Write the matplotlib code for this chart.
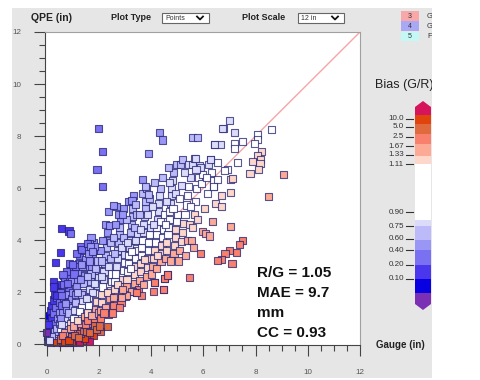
import numpy as np
import matplotlib
matplotlib.use("Agg")
import matplotlib.pyplot as plt
from matplotlib.colors import ListedColormap, BoundaryNorm
from matplotlib.patches import Rectangle, Polygon

plt.rcParams['font.family'] = ['Liberation Sans', 'DejaVu Sans']

# gauge (x) and QPE (y) amounts, inches
gauge = [
    0.05, 0.05, 0.08, 0.10, 0.12, 0.06, 0.15, 0.10, 0.20, 0.18,
    0.25, 0.30, 0.22, 0.28, 0.35, 0.40, 0.38, 0.45, 0.32, 0.42,
    0.48, 0.15, 0.25, 0.35, 0.45, 0.30, 0.40, 0.50, 0.20, 0.12,
    0.50, 0.45, 0.28, 0.08, 0.01, 0.30, 0.66, 0.78, 0.40, 0.55,
    0.60, 0.70, 0.65, 0.80, 0.90, 0.75, 1.00, 1.10, 0.95, 1.20,
    1.30, 1.15, 1.40, 1.50, 1.35, 1.60, 1.70, 1.55, 1.80, 1.90,
    1.75, 2.05, 0.55, 0.85, 1.25, 1.65, 2.33, 0.95, 1.45, 0.70,
    0.55, 0.60, 0.62, 0.58, 0.65, 0.70, 0.68, 0.72, 0.75, 0.78,
    0.80, 0.82, 0.85, 0.88, 0.90, 0.92, 0.95, 0.98, 0.96, 1.00,
    0.85, 0.70, 0.60, 0.90, 0.78, 0.65, 0.55, 0.52, 0.88, 0.97,
    0.74, 0.83, 0.58, 0.94, 0.86,
    1.02, 1.05, 1.08, 1.10, 1.12, 1.15, 1.18, 1.20, 1.22, 1.25,
    1.28, 1.30, 1.32, 1.35, 1.38, 1.40, 1.42, 1.45, 1.48, 1.50,
    1.05, 1.10, 1.18, 1.26, 1.34, 1.44, 1.40, 1.16, 1.46, 1.20,
    1.30, 1.36, 1.06, 1.22, 1.48,
    1.52, 1.55, 1.58, 1.60, 1.62, 1.65, 1.68, 1.70, 1.72, 1.75,
    1.78, 1.80, 1.82, 1.85, 1.88, 1.90, 1.92, 1.95, 1.98, 2.00,
    1.56, 1.64, 1.74, 1.86, 1.94, 1.66, 1.90, 1.76, 1.84, 1.60,
    1.96, 1.70, 1.98, 1.54,
    2.02, 2.05, 2.08, 2.10, 2.12, 2.15, 2.18, 2.20, 2.22, 2.25,
    2.28, 2.30, 2.32, 2.38, 2.40, 2.42, 2.45, 2.48, 2.50, 2.06,
    2.14, 2.24, 2.36, 2.44, 2.46, 2.12, 2.26, 2.40, 2.20, 2.34,
    2.10,
    2.52, 2.55, 2.58, 2.60, 2.62, 2.65, 2.68, 2.70, 2.72, 2.75,
    2.78, 2.80, 2.82, 2.85, 2.88, 2.90, 2.92, 2.95, 2.98, 3.00,
    2.56, 2.64, 2.74, 2.86, 2.94, 2.60, 2.70, 2.80, 2.96, 2.66,
    3.02, 3.05, 3.08, 3.10, 3.12, 3.15, 3.18, 3.20, 3.22, 3.25,
    3.28, 3.30, 3.32, 3.35, 3.38, 3.40, 3.42, 3.45, 3.48, 3.50,
    3.06, 3.14, 3.24, 3.36, 3.44, 3.20, 3.46, 3.34, 3.10, 3.40,
    3.52, 3.55, 3.58, 3.60, 3.62, 3.64, 3.65, 3.68, 3.70, 3.72,
    3.75, 3.78, 3.80, 3.82, 3.85, 3.88, 3.90, 3.92, 3.95, 3.98,
    3.56, 3.66, 3.76, 3.86, 3.94, 3.60, 3.72, 3.84,
    4.02, 4.05, 4.08, 4.10, 4.12, 4.15, 4.18, 4.20, 4.22, 4.25,
    4.28, 4.30, 4.32, 4.35, 4.38, 4.40, 4.42, 4.45, 4.48, 4.49,
    4.06, 4.14, 4.24, 4.36, 4.44, 4.20, 4.50, 4.10,
    4.52, 4.55, 4.58, 4.60, 4.62, 4.65, 4.68, 4.70, 4.72, 4.75,
    4.78, 4.80, 4.82, 4.85, 4.88, 4.90, 4.92, 4.95, 4.98, 5.00,
    4.60, 4.70, 4.84, 4.94, 4.56, 4.76, 4.66, 4.96,
    5.05, 5.10, 5.15, 5.20, 5.25, 5.30, 5.35, 5.40, 5.45, 5.50,
    5.08, 5.18, 5.28, 5.38, 5.48, 5.12, 5.22, 5.42, 5.32, 5.48,
    5.55, 5.60, 5.65, 5.70, 5.75, 5.80, 5.58, 5.68, 5.85, 5.88,
    5.90, 5.97, 5.92, 5.97, 5.62, 5.78, 5.52, 5.72,
    6.10, 6.23, 6.05, 6.15, 6.27, 6.36, 6.40, 6.40, 6.42, 6.30,
    6.20, 6.12, 6.48,
    6.99, 6.76, 7.21, 8.61, 8.08, 8.08, 7.97, 7.49, 7.18, 7.18,
    6.67, 6.53, 7.32, 8.24, 8.06, 8.20, 8.17, 7.90, 8.10, 7.79,
    9.08, 6.94, 6.80, 7.04, 7.12, 6.53, 6.40, 7.03, 6.68, 8.51,
    6.68, 7.04, 7.49, 7.39, 7.26, 7.00, 6.83, 6.68, 6.53, 7.10,
    4.12, 3.27, 3.05, 2.88, 2.92, 4.49, 3.44, 4.53, 4.62,
    2.00, 2.15, 1.93, 2.15, 4.34, 4.43, 5.59, 5.78, 3.91, 0.58,
    0.86, 0.93, 0.53, 0.35, 0.28, 0.37, 0.58, 0.63, 0.80, 0.98,
    1.30, 1.34, 1.63, 1.85, 2.37, 2.57, 2.92, 3.27, 3.40, 3.68,
    3.78, 3.91, 1.35, 1.55, 1.68, 1.75, 6.74, 6.42, 6.27, 5.71,
]
qpe = [
    0.10, 0.30, 0.50, 0.70, 0.90, 1.10, 1.30, 0.20, 1.50, 1.00,
    1.70, 1.90, 0.60, 1.20, 1.40, 1.80, 2.10, 2.30, 0.80, 1.00,
    1.60, 0.05, 0.10, 0.25, 0.40, 0.50, 0.60, 0.80, 0.30, 0.15,
    1.20, 2.00, 2.40, 0.76, 0.45, 2.22, 2.63, 2.29, 0.05, 0.10,
    0.05, 0.15, 0.30, 0.10, 0.25, 0.40, 0.05, 0.20, 0.45, 0.10,
    0.30, 0.50, 0.15, 0.40, 0.60, 0.25, 0.55, 0.80, 0.35, 0.60,
    0.90, 0.50, 0.20, 0.08, 0.05, 0.12, 0.68, 0.12, 0.22, 0.08,
    0.60, 0.90, 1.20, 1.50, 1.80, 2.10, 2.50, 0.70, 1.00, 1.35,
    1.60, 1.90, 2.20, 2.60, 2.90, 0.80, 1.10, 1.40, 1.75, 2.00,
    0.55, 0.45, 0.35, 0.60, 2.80, 2.30, 1.00, 2.00, 3.10, 2.40,
    1.55, 1.20, 0.75, 0.30, 0.15,
    0.70, 1.00, 1.30, 1.60, 1.90, 2.20, 2.50, 2.80, 3.10, 3.40,
    0.40, 0.80, 1.10, 1.45, 1.70, 2.00, 2.35, 2.65, 2.95, 3.25,
    2.70, 3.00, 0.90, 1.25, 1.90, 1.05, 0.50, 3.50, 3.60, 2.00,
    2.50, 3.00, 0.35, 0.25, 0.75,
    0.50, 0.90, 1.20, 1.50, 1.80, 2.10, 2.40, 2.70, 3.00, 3.30,
    3.60, 3.90, 0.70, 1.00, 1.35, 1.65, 1.95, 2.25, 2.55, 2.85,
    2.60, 3.20, 1.10, 2.90, 3.20, 0.45, 0.55, 2.00, 2.35, 3.50,
    3.60, 4.10, 1.20, 1.75,
    0.70, 1.00, 1.30, 1.60, 1.90, 2.20, 2.50, 2.80, 3.10, 3.40,
    3.70, 4.00, 4.30, 1.15, 1.45, 1.75, 2.05, 2.40, 2.70, 3.60,
    4.00, 4.60, 3.00, 3.30, 3.90, 2.60, 1.40, 4.55, 1.20, 2.00,
    3.20,
    1.20, 1.50, 1.80, 2.10, 2.40, 2.70, 3.00, 3.30, 3.60, 3.90,
    4.20, 4.50, 4.80, 1.60, 1.90, 2.20, 2.50, 2.85, 3.15, 3.45,
    4.10, 4.60, 5.00, 3.70, 4.10, 3.50, 2.30, 1.40, 5.20, 5.30,
    1.85, 2.20, 2.50, 2.80, 3.10, 3.40, 3.70, 4.00, 4.30, 4.60,
    4.90, 5.20, 2.03, 2.35, 2.70, 3.00, 3.30, 3.60, 3.95, 4.25,
    4.80, 5.50, 3.55, 4.50, 5.00, 2.90, 2.00, 5.70, 3.90, 4.00,
    2.10, 2.45, 2.80, 3.10, 3.40, 1.87, 3.70, 4.00, 4.30, 4.60,
    4.90, 5.20, 5.50, 2.60, 2.95, 3.30, 3.60, 3.90, 4.20, 4.50,
    5.00, 5.80, 3.25, 5.00, 5.60, 4.40, 2.30, 6.00,
    2.70, 3.00, 3.30, 2.01, 2.38, 3.60, 3.90, 4.20, 4.50, 4.80,
    5.10, 5.40, 5.70, 6.00, 3.20, 3.50, 3.80, 4.10, 4.40, 2.10,
    5.30, 6.20, 3.40, 4.70, 6.40, 2.90, 5.00, 4.60,
    2.51, 3.30, 3.60, 3.90, 2.66, 4.20, 4.50, 4.80, 5.10, 5.40,
    5.70, 6.00, 6.30, 6.60, 3.50, 3.80, 4.10, 4.40, 4.70, 5.00,
    5.50, 6.20, 5.20, 5.80, 4.60, 3.20, 6.80, 6.90,
    3.20, 3.60, 3.95, 4.30, 4.65, 5.00, 5.35, 5.70, 6.05, 6.40,
    5.60, 6.10, 6.60, 4.00, 4.60, 6.90, 7.10, 6.90, 3.40, 2.56,
    4.00, 4.50, 5.00, 5.50, 6.00, 6.40, 6.90, 7.14, 6.88, 6.78,
    3.47, 4.32, 6.19, 6.52, 3.70, 4.80, 5.30, 6.70,
    4.24, 4.16, 5.20, 5.80, 7.10, 4.71, 6.07, 6.30, 7.66, 6.60,
    6.90, 6.40, 5.40,
    8.61, 8.28, 8.12, 8.24, 8.05, 7.87, 7.71, 7.79, 7.71, 7.51,
    7.68, 7.00, 7.00, 7.42, 7.26, 7.09, 6.94, 7.03, 6.70, 6.55,
    6.52, 6.72, 6.68, 6.34, 6.37, 6.32, 6.07, 5.83, 5.70, 5.66,
    5.31, 4.52, 4.00, 3.84, 3.54, 3.60, 3.50, 3.27, 3.22, 3.12,
    2.38, 2.03, 1.87, 1.81, 2.10, 2.10, 2.00, 2.51, 2.66,
    8.28, 7.42, 6.70, 6.07, 8.12, 7.85, 7.95, 7.95, 7.32, 4.44,
    4.35, 4.24, 3.52, 3.14, 2.20, 1.87, 1.87, 2.67, 2.32, 3.05,
    3.75, 3.65, 3.88, 3.75, 5.11, 5.32, 5.00, 5.53, 5.38, 6.32,
    6.07, 5.75, 3.05, 3.88, 3.75, 3.56, 8.30, 7.66, 7.10, 7.14,
]

# bias classes (G/R)
bias_edges = [0.05, 0.10, 0.20, 0.40, 0.60, 0.75, 0.90, 1.11, 1.33, 1.67, 2.5, 5.0, 10.0]
bias_colors = ['#7b2fb5', '#0800e0', '#4a36ec', '#7a70f2', '#9a96f6', '#bcbaf8', '#dcdcfa',
               '#ffffff', '#fdd8ca', '#fcaa96', '#f8806c', '#e06a3e', '#e0440c', '#d6145c']
cbar_labels = ['10.0', '5.0', '2.5', '1.67', '1.33', '1.11', '0.90', '0.75', '0.60', '0.40', '0.20', '0.10']
stats = ['R/G = 1.05', 'MAE = 9.7', 'mm', 'CC = 0.93']
legend_ids = ['3', '4', '5']
legend_txt = ['G', 'G', 'F']
legend_colors = ['#f8a8a8', '#a8a8f4', '#c4f8f4']

g = np.array(gauge)
q = np.array(qpe)
bias = g / q

cmap = ListedColormap(bias_colors[1:-1])
cmap.set_under(bias_colors[0])
cmap.set_over(bias_colors[-1])
norm = BoundaryNorm(bias_edges, cmap.N)

fig = plt.figure(figsize=(4.81, 3.80), dpi=100)

# background layer in pixel coordinates
bg = fig.add_axes([0, 0, 1, 1], zorder=0)
bg.set_xlim(0, 481)
bg.set_ylim(380, 0)
bg.axis('off')
bg.add_patch(Rectangle((12, 8), 420, 370, color='#e6e6e6', lw=0))

bg.text(31, 18, 'QPE (in)', fontsize=7.5, fontweight='bold', va='center', color='#222')
bg.text(111, 18, 'Plot Type', fontsize=6.5, fontweight='bold', va='center', color='#222')
bg.text(242, 18, 'Plot Scale', fontsize=6.5, fontweight='bold', va='center', color='#222')
for x0, w, lab in [(162, 47, 'Points'), (298, 46, '12 in')]:
    bg.add_patch(Rectangle((x0, 13), w, 10, facecolor='white', edgecolor='#666', lw=0.8))
    bg.text(x0 + 3, 18.3, lab, fontsize=5, va='center', color='#333')
    cx = x0 + w - 9
    bg.plot([cx - 3, cx, cx + 3], [16.5, 19.5, 16.5], color='#111', lw=1.3)

for i, (lid, lt, lc) in enumerate(zip(legend_ids, legend_txt, legend_colors)):
    y0 = 11 + i * 10.3
    bg.add_patch(Rectangle((401, y0), 18, 9.5, color=lc, lw=0))
    bg.text(410, y0 + 5, lid, fontsize=5, ha='center', va='center', color='#333')
    bg.text(427, y0 + 5, lt, fontsize=5.5, va='center', color='#333')

bg.text(375, 85, 'Bias (G/R)', fontsize=9, va='center', color='#222')
bg.text(376, 345, 'Gauge (in)', fontsize=7, fontweight='bold', va='center', color='#222')

# colour bar
cb_x0, cb_x1 = 415, 431
tick_y = [119, 127, 137, 146, 155, 164, 212, 226, 239, 250, 265, 279]
blocks = [(115, 124), (124, 134), (134, 144), (144, 156), (156, 164), (164, 220),
          (220, 226), (226, 240), (240, 250), (250, 265), (265, 279), (279, 293)]
block_cols = bias_colors[1:-1][::-1]
for (t, b), c in zip(blocks, block_cols):
    bg.add_patch(Rectangle((cb_x0, t), cb_x1 - cb_x0, b - t, color=c, lw=0))
bg.add_patch(Polygon([(cb_x0, 115), (cb_x0, 107), (423, 101), (cb_x1, 107), (cb_x1, 115)],
                     closed=True, color=bias_colors[-1], lw=0))
bg.add_patch(Polygon([(cb_x0, 293), (cb_x0, 304), (423, 310), (cb_x1, 304), (cb_x1, 293)],
                     closed=True, color=bias_colors[0], lw=0))
for ty, lab in zip(tick_y, cbar_labels):
    bg.plot([406, 413], [ty, ty], color='#333', lw=0.8)
    bg.text(404, ty, lab, fontsize=5.8, ha='right', va='center', color='#333')

# cut off the panel at the right like the page does
bg.add_patch(Rectangle((432, 0), 49, 380, color='white', lw=0, zorder=5))

# main scatter
ax = fig.add_axes([45 / 481, 1 - 345 / 380, 315 / 481, 313 / 380], zorder=1)
ax.set_facecolor('white')
ax.set_xlim(-0.06, 12)
ax.set_ylim(-0.03, 12)
ax.plot([0, 12], [0, 12], color='#f4a6a6', lw=1, zorder=1)
ax.scatter(g, q, c=bias, cmap=cmap, norm=norm, marker='s', s=26,
           edgecolors=(0.13, 0.13, 0.45, 0.75), linewidths=0.8, zorder=2, clip_on=False)

ax.set_xticks(np.arange(0, 13, 2))
ax.set_yticks(np.arange(0, 13, 2))
ax.set_xticks(np.arange(0, 12.1, 0.5), minor=True)
ax.set_yticks(np.arange(0, 12.1, 0.5), minor=True)
ax.tick_params(which='major', length=8, width=0.8, color='#444', labelsize=5.8,
               labelcolor='#555', pad=9)
ax.tick_params(which='minor', length=4, width=0.8, color='#444')
for s in ['top', 'right']:
    ax.spines[s].set_color('#a0a0a0')
for s in ['left', 'bottom']:
    ax.spines[s].set_color('#444')

for i, st in enumerate(stats):
    ax.text(257, 273 + i * 20, st, transform=bg.transData, fontsize=11,
            fontweight='bold', va='center', color='#111', zorder=3)

fig.savefig('out.png', dpi=100)
